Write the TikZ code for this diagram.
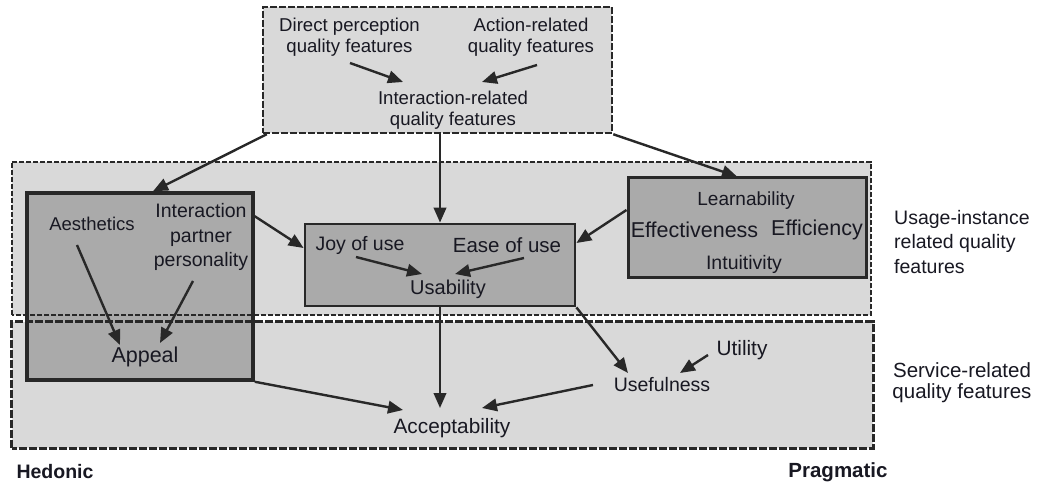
\documentclass[tikz,border=0pt]{standalone}
\usepackage{fontspec}
\setmainfont{Liberation Sans}
\usetikzlibrary{arrows.meta,calc}
\definecolor{bandgray}{RGB}{217,217,217}
\definecolor{boxgray}{RGB}{170,170,170}
\definecolor{edgecol}{RGB}{40,40,40}
\definecolor{txtcol}{RGB}{24,24,34}
\newcommand{\fsm}{\fontsize{18.6bp}{21bp}\selectfont}
\newcommand{\fmd}{\fontsize{19.5bp}{24.5bp}\selectfont}
\newcommand{\flg}{\fontsize{21.5bp}{24bp}\selectfont}
\tikzset{
  lbl/.style={inner sep=0pt, text=txtcol, align=center, font=\fmd},
  band/.style={fill=bandgray, draw=none, inner sep=0pt},
  qbox/.style={fill=boxgray, draw=edgecol, line width=3bp, inner sep=0pt},
  arr/.style={-{Triangle[length=15bp,width=12.5bp]}, line width=2.4bp, draw=edgecol},
}
\begin{document}
\begin{tikzpicture}[x=1bp,y=-1bp,line join=miter]
\useasboundingbox[fill=white] (0,0) rectangle (1045,486);
%%
  % Node: bands and top box
  \node[band, minimum width=859bp, minimum height=153bp] (usage) at (441.5,238.5) {};
  \node[band, minimum width=861bp, minimum height=126bp] (service) at (442.5,385) {};
  \node[band, draw=edgecol, line width=2.5bp, dash pattern=on 7bp off 2bp,
        minimum width=349bp, minimum height=126bp] (topbox) at (437.5,70) {};
  % Node: inner boxes
  \node[qbox, line width=3.5bp, minimum width=226bp, minimum height=187bp] (appealbox) at (140,286.5) {};
  \node[qbox, line width=2.8bp, minimum width=270bp, minimum height=82bp] (usabox) at (440,265) {};
  \node[qbox, minimum width=238bp, minimum height=100bp] (effbox) at (747,228) {};
  % Node: band outlines
  \draw[edgecol, line width=1.8bp, dash pattern=on 5bp off 2bp] (usage.south west) rectangle (usage.north east);
  \draw[edgecol, line width=2.6bp, dash pattern=on 8bp off 2bp] (service.south west) rectangle (service.north east);
%%
  % Node: texts in top box
  \node[lbl, font=\fsm] (dirp) at (349.5,37.5) {Direct perception\\quality features};
  \node[lbl, font=\fsm] (actr) at (531,37.5) {Action-related\\quality features};
  \node[lbl, font=\fsm] (intr) at (453,110) {Interaction-related\\quality features};
  % Node: hedonic side
  \node[lbl, font=\fontsize{18.5bp}{24bp}\selectfont] (aest) at (92,224) {Aesthetics};
  \node[lbl] (ipp) at (201,237) {Interaction\\partner\\personality};
  \node[lbl, font=\flg] (appeal) at (145,357) {Appeal};
  % Node: usability box
  \node[lbl] (joy) at (360,245) {Joy of use};
  \node[lbl, font=\fontsize{20.5bp}{24bp}\selectfont] (ease) at (507,245) {Ease of use};
  \node[lbl, font=\fontsize{20bp}{24bp}\selectfont] (usab) at (448,289) {Usability};
  % Node: pragmatic box
  \node[lbl, font=\fontsize{19bp}{24bp}\selectfont] (learn) at (746,201) {Learnability};
  \node[lbl, font=\flg] (effect) at (694.5,230) {Effectiveness};
  \node[lbl, font=\flg] (effic) at (817,230) {Efficiency};
  \node[lbl, font=\fontsize{19.5bp}{24bp}\selectfont] (intuit) at (744,264) {Intuitivity};
  % Node: service band
  \node[lbl, font=\fontsize{20.8bp}{24bp}\selectfont] (utility) at (742,350) {Utility};
  \node[lbl] (usef) at (662,385) {Usefulness};
  \node[lbl, font=\fontsize{20.8bp}{24bp}\selectfont] (accept) at (452,428) {Acceptability};
  % Node: side labels
  \node[lbl, align=left, anchor=west] (usagelbl) at (894,242) {Usage-instance\\related quality\\features};
  \node[lbl, font=\fontsize{20.5bp}{21bp}\selectfont] (servlbl) at (962,382.5) {Service-related\\quality features};
  \node[lbl, font=\bfseries\fontsize{19.5bp}{24bp}\selectfont] (hedonic) at (55,472) {Hedonic};
  \node[lbl, font=\bfseries\fontsize{20.5bp}{24bp}\selectfont] (pragmatic) at (838,472) {Pragmatic};
%%
  % Edge: dirp -> intr
  \draw[arr] ($(dirp)+(0.5,25.5)$) -- ($(intr)+(-50,-28)$);
  % Edge: actr -> intr
  \draw[arr] ($(actr)+(6,27.5)$) -- ($(intr)+(29,-28)$);
  % Edge: topbox -> appealbox
  \draw[arr] ([xshift=5bp]topbox.south west) -- ([xshift=13bp]appealbox.north);
  % Edge: topbox -> usabox
  \draw[arr] (topbox.south -| usabox.north) -- (usabox.north);
  % Edge: topbox -> effbox
  \draw[arr] (topbox.south east) -- ([xshift=-10bp]effbox.north);
  % Edge: aest -> appeal
  \draw[arr] ($(aest)+(-15,21)$) -- ($(appeal)+(-25,-12)$);
  % Edge: ipp -> appeal
  \draw[arr] ($(ipp)+(-8,44)$) -- ($(appeal)+(15,-14)$);
  % Edge: appealbox -> usabox
  \draw[arr] ([yshift=-25bp]appealbox.north east) -- ([yshift=17bp]usabox.west);
  % Edge: effbox -> usabox
  \draw[arr] ([yshift=18bp]effbox.west) -- ([yshift=22bp]usabox.east);
  % Edge: joy -> usab
  \draw[arr] ($(joy)+(-4,12)$) -- ($(usab)+(-26,-15)$);
  % Edge: ease -> usab
  \draw[arr] ($(ease)+(17,13)$) -- ($(usab)+(7,-15)$);
  % Edge: usabox -> accept
  \draw[arr] (usabox.south) -- ($(accept)+(-12,-20)$);
  % Edge: usabox -> usef
  \draw[arr] (usabox.south east) -- ($(usef)+(-34,-12)$);
  % Edge: utility -> usef
  \draw[arr] ($(utility)+(-34,5)$) -- ($(usef)+(18,-12)$);
  % Edge: appealbox -> accept
  \draw[arr] (appealbox.south east) -- ($(accept)+(-49,-18)$);
  % Edge: usef -> accept
  \draw[arr] ($(usef)+(-69,0)$) -- ($(accept)+(30,-20)$);
%
\end{tikzpicture}
\end{document}
